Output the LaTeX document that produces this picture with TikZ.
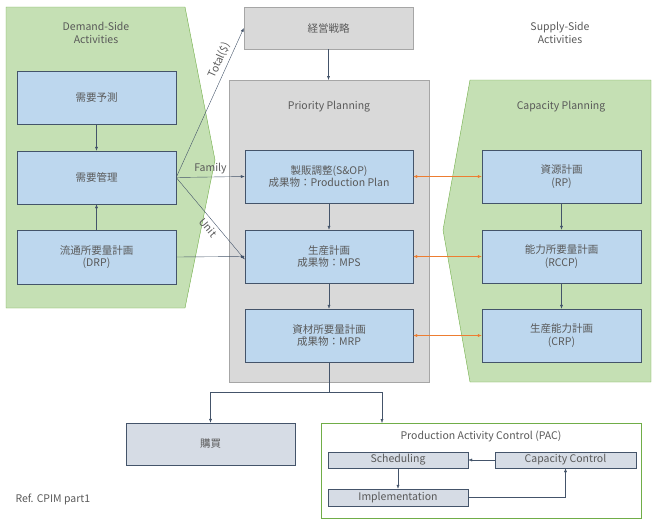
\documentclass[tikz,border=0pt]{standalone}
\usepackage{fontspec}
\setmainfont{Noto Sans CJK JP}
\usetikzlibrary{arrows.meta}
\definecolor{bl}{HTML}{BDD7EE}
\definecolor{bd}{HTML}{44546A}
\definecolor{gr}{HTML}{C5E0B4}
\definecolor{gb}{HTML}{70AD47}
\definecolor{gy}{HTML}{D9D9D9}
\definecolor{gyb}{HTML}{A6A6A6}
\definecolor{tx}{HTML}{595959}
\definecolor{pl}{HTML}{D6DCE5}
\definecolor{or}{HTML}{ED7D31}
\begin{document}
\begin{tikzpicture}[x=1pt,y=-1pt,font=\fontsize{10.5}{12.5}\selectfont,text=tx,
 box/.style={draw=bd,fill=bl,align=center,inner sep=0pt},
 sm/.style={draw=bd,fill=pl,align=center,inner sep=0pt},
 ar/.style={draw=bd,-{Latex[length=4pt,width=3pt]}},
 oa/.style={draw=or,{Latex[length=4pt,width=3pt]}-{Latex[length=4pt,width=3pt]}}]
\useasboundingbox (0,0) rectangle (657,523);
% panels
\draw[fill=gr,draw=gb] (6,7)--(185,7)--(215,160)--(185,308)--(6,308)--cycle;
\draw[fill=gr,draw=gb] (470,80)--(651,80)--(651,382)--(470,382)--(443,230)--cycle;
\draw[fill=gy,draw=gyb] (229,80) rectangle (429,382);
\node[draw=gyb,fill=gy,minimum width=169pt,minimum height=42pt,inner sep=0pt] (keiei) at (328.5,28) {経営戦略};
\node[align=center] at (96,33) {Demand-Side\\Activities};
\node[align=center] at (560,33) {Supply-Side\\Activities};
\node at (329,107) {Priority Planning};
\node at (561,107) {Capacity Planning};
% left nodes
\node[box,minimum width=159pt,minimum height=53pt] (yosoku) at (96.5,97.5) {需要予測};
\node[box,minimum width=159pt,minimum height=53pt] (kanri) at (96.5,177.5) {需要管理};
\node[box,minimum width=159pt,minimum height=54pt] (drp) at (96.5,257) {流通所要量計画\\(DRP)};
% center
\node[box,minimum width=168pt,minimum height=53pt] (sop) at (329,176.5) {製販調整(S\&OP)\\成果物：Production Plan};
\node[box,minimum width=168pt,minimum height=53pt] (mps) at (329,256.5) {生産計画\\成果物：MPS};
\node[box,minimum width=168pt,minimum height=53pt] (mrp) at (329,335.5) {資材所要量計画\\成果物：MRP};
% right
\node[box,minimum width=159pt,minimum height=53pt] (rp) at (561.5,176.5) {資源計画\\(RP)};
\node[box,minimum width=159pt,minimum height=53pt] (rccp) at (561.5,256.5) {能力所要量計画\\(RCCP)};
\node[box,minimum width=159pt,minimum height=53pt] (crp) at (561.5,335.5) {生産能力計画\\(CRP)};
% bottom
\node[sm,minimum width=169pt,minimum height=42pt] (kobai) at (210.5,444) {購買};
\node[draw=gb,fill=white,minimum width=320pt,minimum height=95pt,inner sep=0pt] (pac) at (481,470.5) {};
\node at (481,436) {Production Activity Control (PAC)};
\node[sm,minimum width=140pt,minimum height=16pt] (sch) at (398,460) {Scheduling};
\node[sm,minimum width=141pt,minimum height=16pt] (cap) at (565.5,460) {Capacity Control};
\node[sm,minimum width=140pt,minimum height=17pt] (imp) at (398,497.5) {Implementation};
% arrows
\draw[ar] (yosoku)--(kanri);
\draw[ar] (drp)--(kanri);
\draw[ar] (keiei)--(keiei|-80,80);
\draw[ar] (sop)--(mps);
\draw[ar] (mps)--(mrp);
\draw[ar] (rp)--(rccp);
\draw[ar] (rccp)--(crp);
\draw[ar] (kanri.east)--node[sloped,above,pos=0.76]{Total(\$)} (keiei.west);
\draw[ar] (kanri.east)--node[above,pos=0.5]{Family} (sop.west);
\draw[ar] (kanri.east)--node[sloped,below,pos=0.55]{Unit} ([yshift=-3pt]mps.west);
\draw[ar] (drp.east)--(mps.west);
\draw[oa] (sop)--(rp);
\draw[oa] (mps)--(rccp);
\draw[oa] (mrp)--(crp);
\draw[draw=bd] (mrp.south)--(329,392) coordinate (br);
\draw[ar] (br)-|(kobai.north);
\draw[ar] (br)-|(382,423);
\draw[ar] (sch)--(imp);
\draw[ar] (cap)--(sch);
\draw[ar] (imp.east)-|(cap.south);
\node[anchor=west] at (12,499) {Ref. CPIM part1};
\end{tikzpicture}
\end{document}
